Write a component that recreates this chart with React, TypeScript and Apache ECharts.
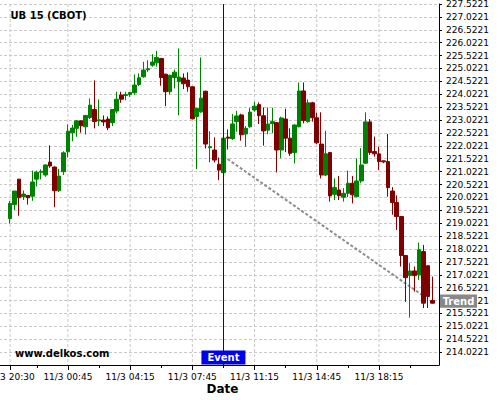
import React, { useEffect, useRef } from "react";
import * as echarts from "echarts";

const chartTitle = "UB 15 (CBOT)";
const siteText = "www.delkos.com";
const xAxisTitle = "Date";
const eventText = "Event";
const trendText = "Trend";

// 15-minute candles, in order: open, close, low, high
const opens = [
  219.2, 219.74, 220.73, 220.05, 220.1, 220.07, 220.73, 221.0, 220.89, 221.39,
  221.2, 220.28, 221.02, 221.79, 222.53, 222.7, 222.99, 222.76, 223.12, 223.43,
  222.99, 223.02, 223.06, 222.92, 223.37, 223.99, 223.97, 224.01, 224.08, 224.4,
  224.7, 224.97, 225.15, 225.24, 225.41, 224.8, 224.12, 224.67, 224.51, 224.65,
  224.57, 224.31, 223.16, 223.34, 224.14, 221.95, 221.86, 221.31, 220.98, 222.36,
  222.3, 222.96, 223.22, 222.48, 222.76, 223.41, 223.62, 223.19, 222.63, 222.88,
  222.92, 221.86, 223.06, 222.32, 221.76, 222.76, 224.15, 222.96, 223.69, 223.11,
  222.09, 220.89, 221.76, 220.14, 220.31, 220.03, 220.18, 220.57, 220.05, 220.66,
  221.35, 222.95, 221.8, 221.71, 221.44, 221.41, 220.27, 219.82, 219.28, 217.77,
  216.99, 217.17, 217.02, 217.92, 217.37, 216.02,
];
const closes = [
  219.79, 220.27, 220.01, 220.15, 220.01, 220.62, 221.0, 221.03, 221.28, 221.24,
  220.28, 220.85, 221.75, 222.59, 222.71, 222.99, 222.8, 223.2, 223.6, 222.97,
  223.03, 222.95, 222.72, 223.43, 223.83, 223.83, 224.01, 224.09, 224.38, 224.66,
  224.96, 225.01, 225.27, 225.45, 224.67, 224.12, 224.76, 224.88, 224.69, 224.43,
  224.31, 223.07, 223.48, 223.87, 222.09, 221.99, 221.47, 221.08, 222.32, 222.32,
  222.87, 223.18, 222.45, 222.7, 223.33, 223.56, 223.19, 222.6, 222.87, 222.96,
  221.86, 223.1, 222.32, 221.73, 222.83, 224.15, 223.0, 223.69, 223.11, 222.14,
  220.89, 221.71, 220.08, 220.41, 220.09, 220.18, 220.57, 220.12, 220.66, 221.28,
  222.95, 221.76, 221.71, 221.41, 221.4, 220.4, 219.82, 219.28, 217.77, 216.91,
  217.17, 216.99, 217.99, 215.92, 216.18, 215.92,
];
const lows = [
  219.01, 219.53, 219.31, 219.92, 219.74, 219.89, 220.45, 220.72, 220.82, 221.17,
  219.64, 220.23, 220.89, 221.57, 222.2, 222.37, 222.53, 222.46, 223.06, 222.7,
  222.79, 222.79, 222.63, 222.79, 223.28, 223.69, 223.79, 223.92, 224.0, 224.34,
  224.66, 224.89, 225.09, 225.09, 224.35, 223.56, 224.01, 224.25, 223.21, 224.22,
  224.12, 223.05, 221.12, 223.3, 221.92, 221.38, 221.38, 220.69, 220.96, 221.88,
  222.25, 222.57, 222.22, 221.99, 222.72, 223.35, 222.87, 222.03, 222.47, 222.51,
  220.99, 221.54, 221.78, 221.63, 221.34, 222.74, 222.89, 222.92, 222.96, 222.09,
  220.76, 220.85, 219.86, 219.92, 219.92, 219.86, 220.03, 219.79, 220.03, 220.57,
  221.32, 221.67, 221.6, 221.09, 221.35, 220.05, 219.35, 218.76, 217.34, 215.97,
  215.36, 216.37, 216.82, 215.73, 215.73, 215.9,
];
const highs = [
  219.88, 220.27, 220.73, 220.29, 220.1, 221.06, 221.06, 221.11, 221.3, 222.04,
  221.22, 221.13, 221.81, 222.85, 222.83, 223.02, 223.0, 223.22, 223.86, 224.56,
  223.82, 223.2, 223.16, 223.45, 224.12, 224.12, 224.12, 224.1, 224.79, 224.83,
  225.28, 225.34, 225.58, 225.71, 225.43, 224.82, 224.78, 224.98, 225.8, 224.83,
  224.87, 224.33, 223.5, 225.45, 224.16, 222.59, 222.35, 221.57, 222.34, 222.66,
  223.25, 223.38, 223.27, 222.79, 223.5, 223.73, 223.71, 223.51, 223.51, 223.5,
  222.94, 223.15, 223.46, 222.7, 222.85, 224.48, 224.48, 223.82, 223.73, 223.31,
  223.32, 222.61, 221.78, 220.76, 220.85, 220.38, 221.06, 220.85, 221.53, 221.93,
  223.32, 223.06, 222.38, 221.99, 221.45, 222.48, 220.42, 220.1, 219.3, 217.79,
  217.47, 217.34, 218.27, 218.18, 217.39, 216.95,
];

// x-axis tick labels and the candle they sit on
const tickLabels = ["11/3 20:30", "11/3 00:45", "11/3 04:15", "11/3 07:45", "11/3 11:15", "11/3 14:45", "11/3 18:15"];
const tickCandles = [0, 13, 27, 41, 55, 69, 83];
const minorTickCandles = [6, 20, 34, 48, 62, 76, 90];

// event and trend
const eventCandle = 48;
const trendCandles = [48, 93];
const trendValues = [221.62, 216.2];
const trendLabelValue = 216.0;

// y axis
const yMin = 213.5221;
const yMax = 227.5221;
const yStep = 0.5;

// empty slots on each side of the candles
const padBefore = 2;
const padAfter = 1;

const FONT = '"DejaVu Sans", sans-serif';
const GRID = { left: -1, right: 61, top: 4, bottom: 35 };

export default function App() {
  const ref = useRef<HTMLDivElement>(null);

  useEffect(() => {
    if (!ref.current) return;
    const chart = echarts.init(ref.current, null, { renderer: "svg" });
    const n = padBefore + opens.length + padAfter;
    const cats = Array.from({ length: n }, (_, k) => String(k));
    const candleData = cats.map((_, k) => {
      const r = k - padBefore;
      return r >= 0 && r < opens.length
        ? [opens[r], closes[r], lows[r], highs[r]]
        : ["-", "-", "-", "-"];
    });
    const trendData = cats.map((_, k) => {
      const i = trendCandles.indexOf(k - padBefore);
      return i >= 0 ? trendValues[i] : null;
    });
    const gridLineData = tickCandles.map((r) => [r + padBefore, yMin]);
    const majorSet = new Set(tickCandles.map((r) => r + padBefore));
    const minorSet = new Set(minorTickCandles.map((r) => r + padBefore));

    chart.setOption({
      animation: false,
      backgroundColor: "#ffffff",
      textStyle: { fontFamily: FONT },
      grid: { ...GRID, outerBoundsMode: "none", containLabel: false },
      xAxis: [
        {
          type: "category",
          data: cats,
          boundaryGap: true,
          axisLine: { show: true, lineStyle: { color: "#000", width: 1 } },
          axisTick: {
            show: true,
            alignWithLabel: true,
            length: 5,
            interval: (i: number) => majorSet.has(i),
            lineStyle: { color: "#000" },
          },
          axisLabel: {
            interval: (i: number) => majorSet.has(i),
            formatter: (_v: string, i: number) => {
              const j = tickCandles.indexOf(i - padBefore);
              return j >= 0 ? tickLabels[j] : "";
            },
            color: "#000",
            fontSize: 9,
            fontFamily: FONT,
            margin: 7,
          },
          splitLine: { show: false },
        },
        {
          type: "category",
          data: cats,
          boundaryGap: true,
          position: "bottom",
          axisLine: { show: false },
          axisTick: {
            show: true,
            alignWithLabel: true,
            length: 3,
            interval: (i: number) => minorSet.has(i),
            lineStyle: { color: "#000" },
          },
          axisLabel: { show: false },
          splitLine: { show: false },
        },
      ],
      yAxis: {
        type: "value",
        position: "right",
        min: yMin,
        max: yMax,
        interval: yStep,
        axisLine: { show: true, lineStyle: { color: "#000", width: 1 } },
        axisTick: { show: true, length: 3, lineStyle: { color: "#000" } },
        axisLabel: {
          color: "#000",
          fontSize: 9,
          fontFamily: FONT,
          margin: 7,
          showMinLabel: false,
          formatter: (v: number) =>
            (Math.round((v - yMin) / yStep) * yStep + yMin).toFixed(4),
        },
        splitLine: {
          show: true,
          showMinLine: false,
          showMaxLine: false,
          lineStyle: { color: "#c8c8c8", width: 1, type: [3, 2] },
        },
      },
      series: [
        {
          type: "custom",
          xAxisIndex: 0,
          yAxisIndex: 0,
          data: gridLineData,
          encode: { x: 0, y: 1 },
          silent: true,
          z: 0,
          renderItem: (params: any, api: any) => {
            const x = api.coord([api.value(0), api.value(1)])[0];
            const cs = params.coordSys;
            return {
              type: "line",
              shape: { x1: x, y1: cs.y, x2: x, y2: cs.y + cs.height },
              style: { stroke: "#c8c8c8", lineWidth: 1, lineDash: [3, 2] },
            };
          },
        },
        {
          type: "line",
          xAxisIndex: 0,
          data: trendData,
          connectNulls: true,
          showSymbol: false,
          symbol: "none",
          silent: true,
          z: 1,
          lineStyle: { color: "#8c8c8c", width: 2, type: [3, 2] },
        },
        {
          type: "candlestick",
          xAxisIndex: 0,
          data: candleData,
          barWidth: 4.2,
          silent: true,
          z: 2,
          itemStyle: {
            color: "#008000",
            color0: "#800000",
            borderColor: "#008000",
            borderColor0: "#800000",
            borderWidth: 1,
          },
          markLine: {
            silent: true,
            symbol: ["none", "none"],
            label: { show: false },
            lineStyle: { color: "#0000cc", width: 1, type: "solid" },
            data: [{ xAxis: eventCandle + padBefore }],
          },
        },
      ],
    });

    const ex = chart.convertToPixel({ xAxisIndex: 0 }, eventCandle + padBefore) as number;
    const yb = chart.convertToPixel({ yAxisIndex: 0 }, yMin) as number;
    const yt = chart.convertToPixel({ yAxisIndex: 0 }, trendLabelValue) as number;
    const rightX = 500 - GRID.right;

    chart.setOption({
      graphic: [
        {
          type: "text",
          z: 100,
          x: 10.5,
          y: 15.5,
          style: {
            text: chartTitle,
            font: `bold 10px ${FONT}`,
            fill: "#000",
            align: "left",
            verticalAlign: "middle",
          },
        },
        {
          type: "text",
          z: 100,
          x: 15,
          y: 353,
          style: {
            text: siteText,
            font: `bold 10px ${FONT}`,
            fill: "#000",
            align: "left",
            verticalAlign: "middle",
          },
        },
        {
          type: "text",
          z: 100,
          x: 222.5,
          y: 389,
          style: {
            text: xAxisTitle,
            font: `bold 12px ${FONT}`,
            fill: "#000",
            align: "center",
            verticalAlign: "middle",
          },
        },
        {
          type: "rect",
          z: 100,
          shape: { x: ex - 22, y: yb - 14.5, width: 44, height: 14 },
          style: { fill: "#0000ee" },
        },
        {
          type: "text",
          z: 101,
          x: ex,
          y: yb - 7.5,
          style: {
            text: eventText,
            font: `bold 10px ${FONT}`,
            fill: "#fff",
            align: "center",
            verticalAlign: "middle",
          },
        },
        {
          type: "rect",
          z: 100,
          shape: { x: rightX + 1, y: yt - 6.7, width: 37, height: 13.4 },
          style: { fill: "#888888" },
        },
        {
          type: "text",
          z: 101,
          x: rightX + 19.5,
          y: yt,
          style: {
            text: trendText,
            font: `bold 10px ${FONT}`,
            fill: "#fff",
            align: "center",
            verticalAlign: "middle",
          },
        },
      ],
    });

    return () => chart.dispose();
  }, []);

  return (
    <div
      ref={ref}
      style={{ position: "fixed", left: 0, top: 0, width: 500, height: 400, background: "#fff" }}
    />
  );
}
